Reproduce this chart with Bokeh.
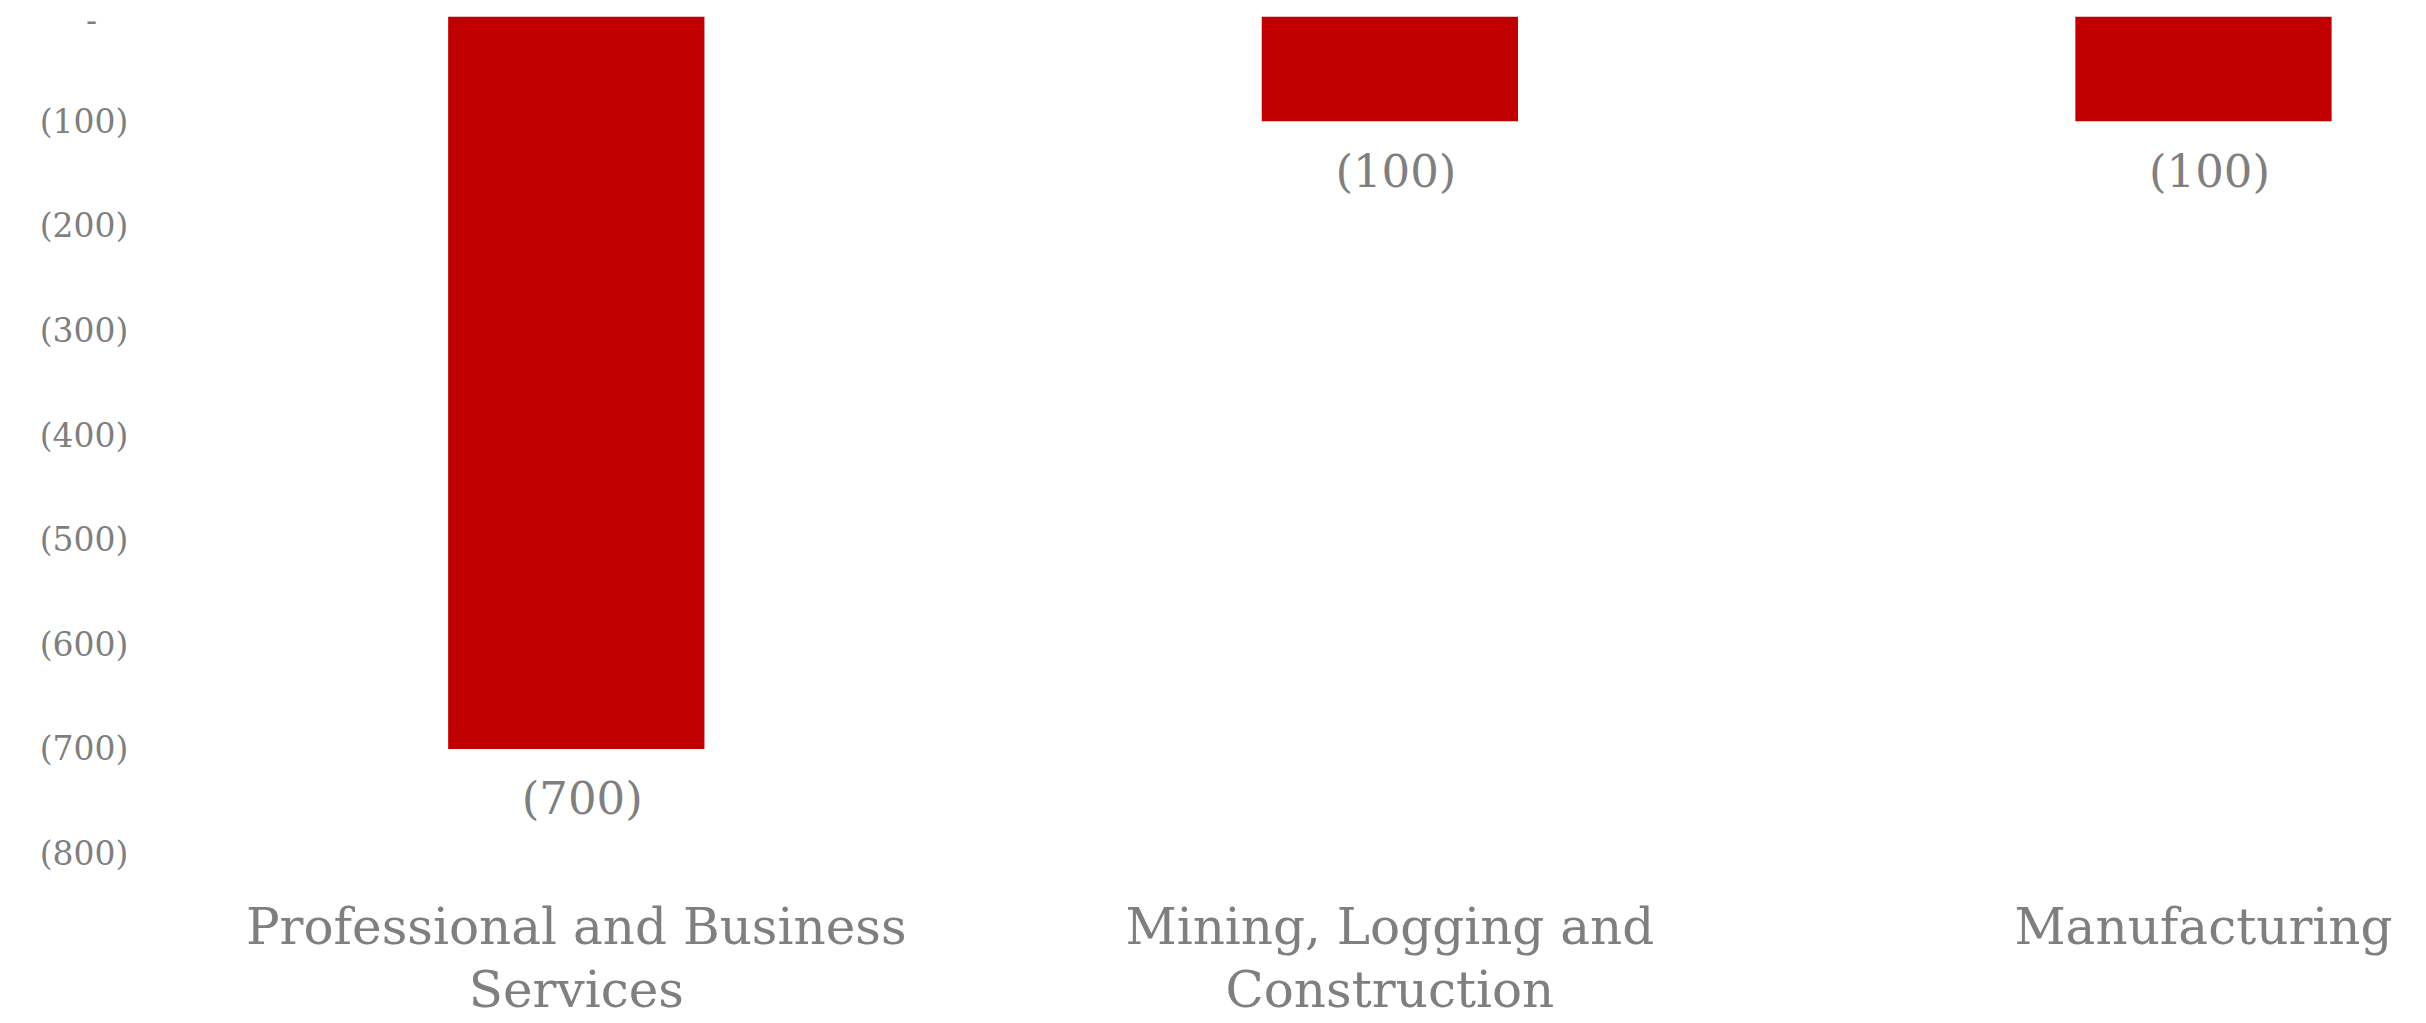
from bokeh.plotting import figure
from bokeh.models import ColumnDataSource, Range1d, FixedTicker
from bokeh.core.properties import value
from bokeh.embed import file_html
from bokeh.resources import INLINE

# ---- data ----
categories = ["Professional and Business\nServices", "Mining, Logging and\nConstruction", "Manufacturing"]
values = [-700, -100, -100]
value_labels = ["(700)", "(100)", "(100)"]
y_ticks = [0, -100, -200, -300, -400, -500, -600, -700, -800]
y_tick_labels = ["-\u00a0\u00a0\u00a0", "(100)", "(200)", "(300)", "(400)", "(500)", "(600)", "(700)", "(800)"]
Y_MIN, Y_MAX = -800, 0

FONT = "DejaVu Serif"
GREY = "#7F7F7F"
RED = "#C00000"

xs = list(range(len(categories)))
src = ColumnDataSource(dict(x=xs, top=values, lab=value_labels))

p = figure(width=2418, height=1022, output_backend="svg", toolbar_location=None,
           x_range=Range1d(-0.5, 2.236), y_range=Range1d(Y_MIN, Y_MAX),
           min_border_left=169, min_border_right=23, min_border_top=16, min_border_bottom=169)
p.outline_line_color = None
p.background_fill_color = "white"
p.border_fill_color = "white"

p.vbar(x="x", top="top", bottom=0, width=0.315, source=src, fill_color=RED, line_color=None)
p.text(x="x", y="top", text="lab", source=src, text_align="center", text_baseline="middle",
       x_offset=6, y_offset=50, text_font=value(FONT), text_font_size="45px", text_color=GREY)

# x axis (category labels)
p.xaxis.ticker = FixedTicker(ticks=xs)
p.xaxis.major_label_overrides = {i: c for i, c in zip(xs, categories)}
p.xaxis.major_label_text_font = FONT
p.xaxis.major_label_text_font_size = "50px"
p.xaxis.major_label_text_line_height = 1.1
p.xaxis.major_label_text_color = GREY
p.xaxis.axis_line_color = None
p.xaxis.major_tick_line_color = None
p.xaxis.minor_tick_line_color = None
p.xaxis.major_tick_out = 0
p.xaxis.major_label_standoff = 44

# y axis
p.yaxis.ticker = FixedTicker(ticks=y_ticks)
p.yaxis.major_label_overrides = {t: l for t, l in zip(y_ticks, y_tick_labels)}
p.yaxis.major_label_text_font = FONT
p.yaxis.major_label_text_font_size = "33px"
p.yaxis.major_label_text_color = GREY
p.yaxis.axis_line_color = None
p.yaxis.major_tick_line_color = None
p.yaxis.minor_tick_line_color = None
p.yaxis.major_tick_out = 0
p.yaxis.major_label_standoff = 41

p.xgrid.visible = False
p.ygrid.ticker = FixedTicker(ticks=[0])
p.ygrid.grid_line_color = "#F2F2F2"
p.ygrid.grid_line_width = 2

open("out.html", "w").write(file_html(p, INLINE))
